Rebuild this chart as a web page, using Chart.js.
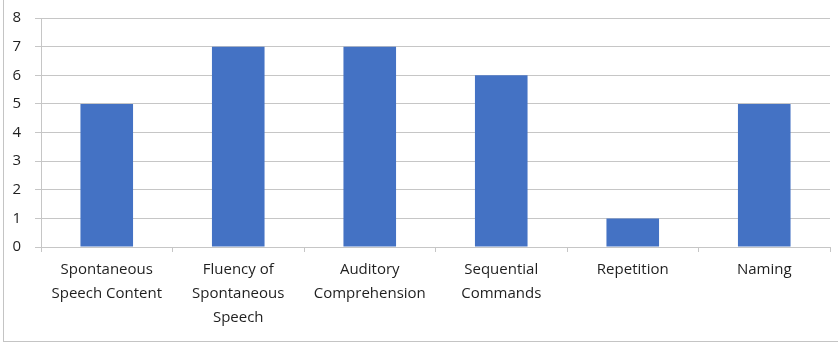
<!DOCTYPE html>
<html>
<head>
<meta charset="utf-8">
<script src="https://cdn.jsdelivr.net/npm/chart.js@4"></script>
<style>
  html, body { margin: 0; padding: 0; background: #fff; }
  #wrap { position: relative; width: 838px; height: 343px; overflow: hidden; }
  #frame { position: absolute; left: 3px; top: -2px; width: 840px; height: 344px; border: 1px solid #c4c4c4; box-sizing: border-box; }
  canvas { position: absolute; left: 0; top: 0; }
</style>
</head>
<body>
<div id="wrap">
  <div id="frame"></div>
  <canvas id="chart" width="838" height="343"></canvas>
</div>
<script>
// カテゴリとスコア
const categories = [
  ['Spontaneous', 'Speech Content'],
  ['Fluency of', 'Spontaneous', 'Speech'],
  ['Auditory', 'Comprehension'],
  ['Sequential', 'Commands'],
  'Repetition',
  'Naming'
];
const scores = [5, 7, 7, 6, 1, 5];
const yTicks = [0, 1, 2, 3, 4, 5, 6, 7, 8];

const BAR_COLOR  = '#4472C4';
const GRID_COLOR = '#c6c6c6';
const TEXT_COLOR = '#1f1f1f';

Chart.defaults.font.family = "'Open Sans', 'Liberation Sans', sans-serif";
Chart.defaults.font.size = 15;
Chart.defaults.color = TEXT_COLOR;

new Chart(document.getElementById('chart').getContext('2d'), {
  type: 'bar',
  data: {
    labels: categories,
    datasets: [{
      data: scores,
      backgroundColor: BAR_COLOR,
      barPercentage: 0.4,
      categoryPercentage: 1.0
    }]
  },
  options: {
    responsive: false,
    animation: false,
    layout: { padding: { top: 18, right: 8, left: 0, bottom: 0 } },
    plugins: { legend: { display: false }, tooltip: { enabled: false } },
    scales: {
      x: {
        afterFit: s => { s.height = 96; },
        grid: { drawOnChartArea: false, drawTicks: true, tickLength: 5, color: GRID_COLOR, offset: true },
        border: { color: GRID_COLOR },
        ticks: { maxRotation: 0, autoSkip: false, padding: 6, font: { lineHeight: 1.58 } }
      },
      y: {
        min: 0,
        max: 8,
        afterFit: s => { s.width = 41; s.paddingTop = 0; s.paddingBottom = 0; },
        afterBuildTicks: s => { s.ticks = yTicks.map(v => ({ value: v })); },
        grid: { color: GRID_COLOR, tickLength: 6 },
        border: { color: GRID_COLOR },
        ticks: { padding: 14, font: { lineHeight: 0.9 } }
      }
    }
  }
});
</script>
</body>
</html>
